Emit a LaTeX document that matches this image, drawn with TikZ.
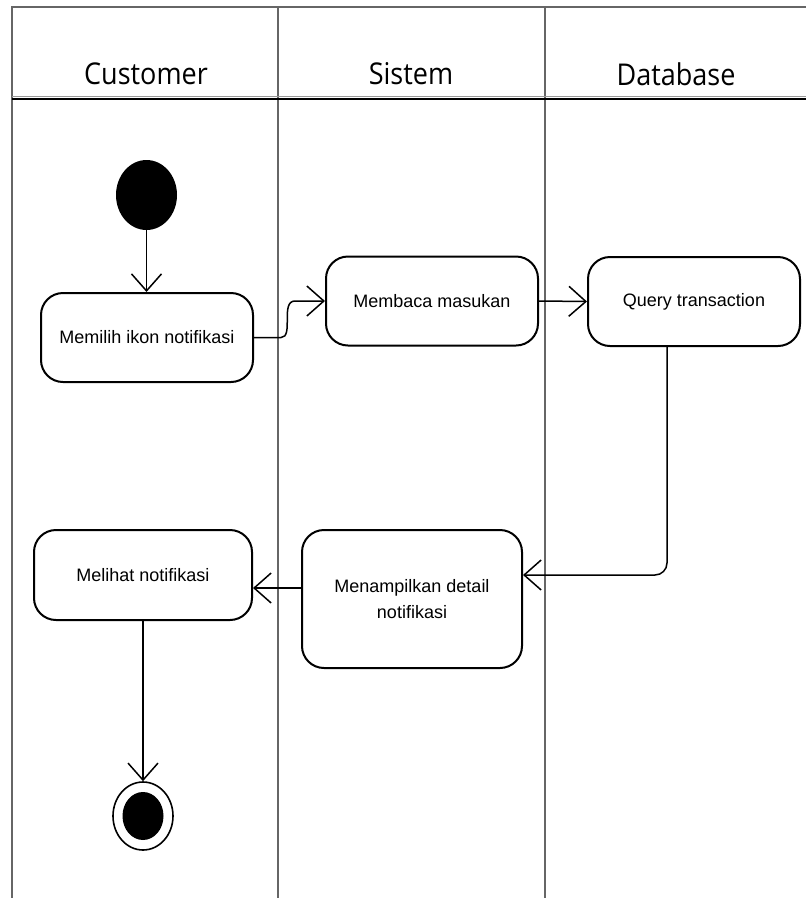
\documentclass[tikz,border=0pt]{standalone}
\usepackage{fontspec}
\usepackage{graphicx}
\setmainfont{Liberation Sans}
\newfontfamily\headfont{Open Sans}
\usetikzlibrary{arrows.meta,shapes.geometric,calc}
\tikzset{
  lane/.style={draw=black!60, line width=1.6pt},
  act/.style={draw=black, line width=2pt, rounded corners=22pt, fill=white,
    minimum width=212pt, minimum height=89pt, align=center,
    font=\fontsize{18}{26}\selectfont, inner sep=0pt},
  hdr/.style={font=\headfont\fontsize{30}{32}\selectfont, inner sep=0pt},
  flow/.style={draw=black, line width=1.5pt, -{Straight Barb[length=17pt,width=30pt,line width=1.5pt]}},
}
\begin{document}
\begin{tikzpicture}[x=1pt,y=-1pt]
\useasboundingbox (0,0) rectangle (806,898);
% frame
\draw[lane] (12,898) -- (12,7) -- (806,7);
\draw[lane] (278,7) -- (278,898);
\draw[lane] (545,7) -- (545,898);
\draw[black!40, line width=1pt] (12,96) -- (806,96);
\draw[black, line width=2.6pt] (12,99) -- (806,99);
% headers
\node[hdr] (hc) at (146,74) {\scalebox{0.9}[1]{Customer}};
\node[hdr] (hs) at (411,74) {\scalebox{0.9}[1]{Sistem}};
\node[hdr] (hd) at (676,74) {\scalebox{0.9}[1]{Database}};
% nodes
\node[ellipse, fill=black, minimum width=61pt, minimum height=70pt, inner sep=0pt] (start) at (146.5,195) {};
\node[act] (m) at (147,337.5) {Memilih ikon notifikasi};
\node[act] (b) at (432,301) {Membaca masukan};
\node[act] (q) at (694,301.5) {Query transaction};
\node[act, minimum width=220pt, minimum height=138pt] (d) at (412,599) {Menampilkan detail\\notifikasi};
\node[act, minimum width=218pt, minimum height=90pt] (l) at (143,575) {Melihat notifikasi};
\node[ellipse, draw=black, line width=1.6pt, minimum width=60pt, minimum height=68pt, inner sep=0pt] (f) at (143,816) {};
\node[ellipse, fill=black, minimum width=41pt, minimum height=48pt, inner sep=0pt] (fi) at (143,816) {};
% connectors
\draw[flow] (start) -- (m.north -| start);
\draw[flow] (m.east) -- ($(m.east)+(27,0)$) .. controls ($(m.east)+(40,0)$) and ($(b.west)+(-45,0)$) .. ($(b.west)+(-30,0)$) -- (b.west);
\draw[flow] (b.east) -- (q.west);
\draw[flow, rounded corners=12pt] ([xshift=-27pt]q.south) |- ([yshift=24pt]d.east);
\draw[flow] ([yshift=11pt]d.west) -- ([yshift=-13pt]l.east);
\draw[flow] (l.south) -- (f.north);
\end{tikzpicture}
\end{document}
